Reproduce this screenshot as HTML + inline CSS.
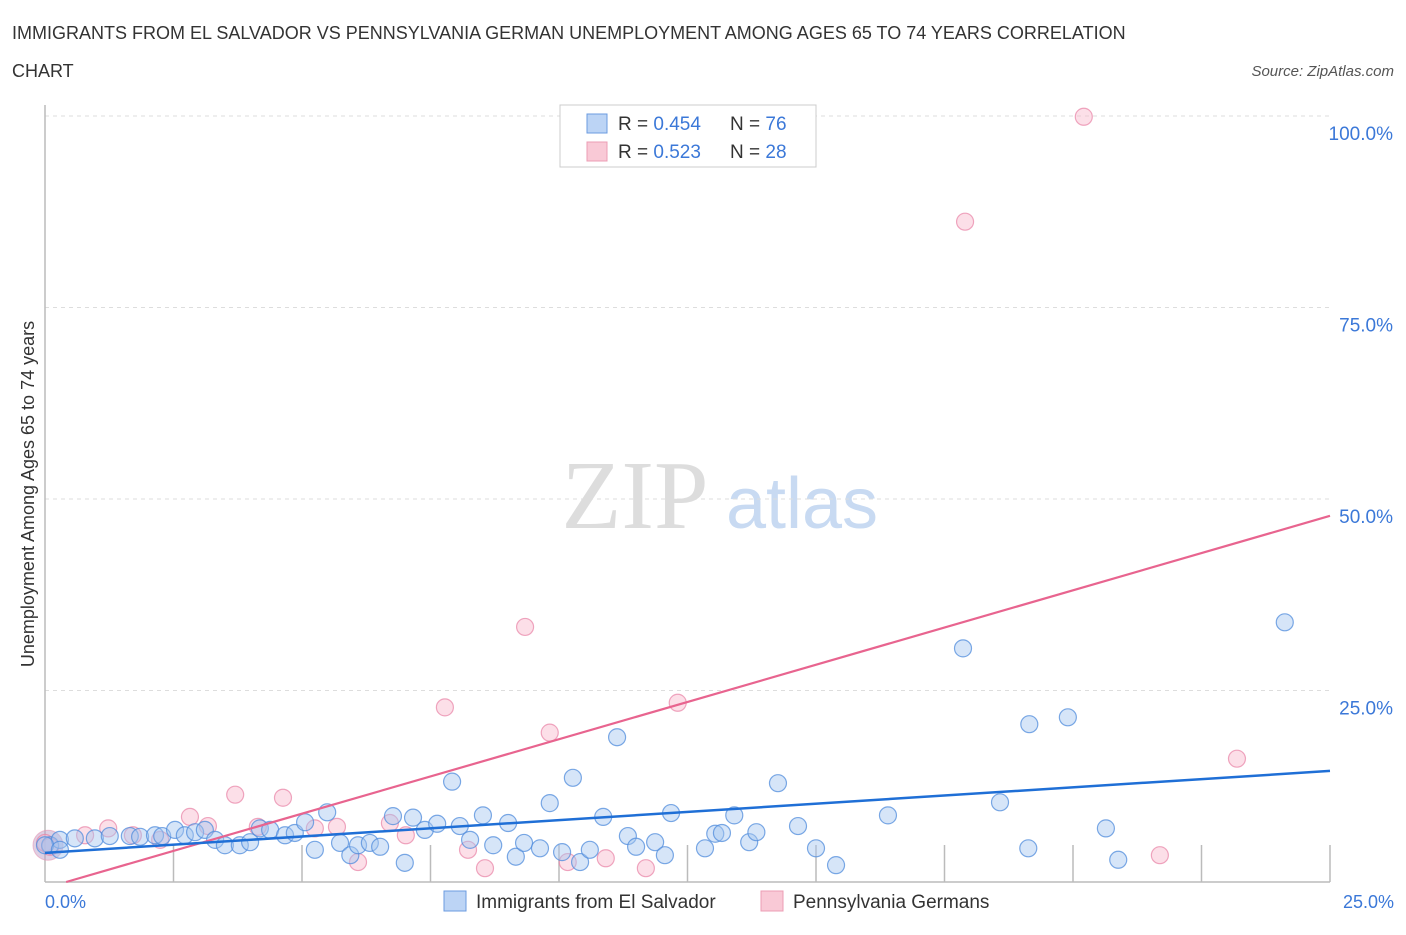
<!DOCTYPE html>
<html><head><meta charset="utf-8"><style>
body{margin:0;background:#fff;font-family:"Liberation Sans",sans-serif}
</style></head><body>
<svg id="chart" width="1406" height="930" xmlns="http://www.w3.org/2000/svg">
<text x="12" y="39" font-size="18" fill="#333">IMMIGRANTS FROM EL SALVADOR VS PENNSYLVANIA GERMAN UNEMPLOYMENT AMONG AGES 65 TO 74 YEARS CORRELATION</text>
<text x="12" y="77" font-size="18" fill="#333">CHART</text>
<text x="1394" y="76" font-size="15" fill="#555" font-style="italic" text-anchor="end">Source: ZipAtlas.com</text>
<text x="635" y="528" font-size="98" fill="#ddd" font-family="Liberation Serif,serif" text-anchor="middle">ZIP</text>
<text x="802" y="528" font-size="72" fill="#c8daf2" text-anchor="middle">atlas</text>
<g id="grid"></g><g id="axes"></g><g id="marks"></g>
<text transform="translate(34,494) rotate(-90)" font-size="18" fill="#333" text-anchor="middle">Unemployment Among Ages 65 to 74 years</text>
<text x="45" y="908" font-size="18" fill="#3b78d8">0.0%</text>
<text x="1394" y="908" font-size="18" fill="#3b78d8" text-anchor="end">25.0%</text>
<g>
<rect x="560" y="105" width="256" height="62" fill="#fff" stroke="#ccc"/>
<rect x="587" y="114" width="20" height="19" fill="#bcd4f5" stroke="#6b9be0"/>
<rect x="587" y="142" width="20" height="19" fill="#f9c9d6" stroke="#ec9db4"/>
<text x="618" y="130" font-size="19" fill="#333">R = <tspan fill="#3b78d8">0.454</tspan><tspan x="730">N = </tspan><tspan fill="#3b78d8">76</tspan></text>
<text x="618" y="158" font-size="19" fill="#333">R = <tspan fill="#3b78d8"> 0.523</tspan><tspan x="730">N = </tspan><tspan fill="#3b78d8">28</tspan></text>
</g>
<g>
<rect x="444" y="891" width="22" height="20" fill="#bcd4f5" stroke="#6b9be0"/>
<text x="476" y="908" font-size="19" fill="#333">Immigrants from El Salvador</text>
<rect x="761" y="891" width="22" height="20" fill="#f9c9d6" stroke="#ec9db4"/>
<text x="793" y="908" font-size="19" fill="#333">Pennsylvania Germans</text>
</g>
</svg>
<script>
const yTicks=[25,50,75,100];
const yTickLabels=["25.0%","50.0%","75.0%","100.0%"];
const xTicks=[2.5,5,7.5,10,12.5,15,17.5,20,22.5,25];
const blueX=[0.10,0.29,0.58,0.97,1.26,1.65,1.85,2.14,2.28,2.53,2.72,2.92,3.11,3.31,3.50,3.79,3.99,4.18,4.38,4.67,4.86,5.06,5.25,5.49,5.74,5.94,6.09,6.32,6.52,6.77,7.00,7.16,7.39,7.63,7.92,8.07,8.27,8.52,8.72,9.01,9.16,9.32,9.63,9.82,10.06,10.27,10.41,10.60,10.86,11.13,11.34,11.50,11.87,12.06,12.18,12.84,13.04,13.17,13.41,13.70,13.84,14.26,14.65,15.00,15.39,16.40,17.86,18.58,19.15,19.13,19.90,20.64,20.88,24.12,0.0,0.29];
const blueY=[4.8,5.5,5.7,5.7,6.0,6.0,5.9,6.1,6.0,6.8,6.1,6.5,6.8,5.5,4.8,4.8,5.2,7.0,6.8,6.1,6.4,7.8,4.2,9.1,5.1,3.5,4.8,5.1,4.6,8.6,2.5,8.4,6.8,7.6,13.1,7.3,5.5,8.7,4.8,7.7,3.3,5.1,4.4,10.3,3.9,13.6,2.6,4.2,8.5,18.9,6.0,4.6,5.2,3.5,9.0,4.4,6.3,6.4,8.7,5.2,6.5,12.9,7.3,4.4,2.2,8.7,30.5,10.4,20.6,4.4,21.5,7.0,2.9,33.9,4.8,4.2];
const pinkX=[0.0,0.10,0.78,1.23,1.71,2.24,2.82,3.17,3.70,4.14,4.63,5.25,5.68,6.09,6.71,7.02,7.78,8.23,8.56,9.34,9.82,10.17,10.91,11.69,12.31,17.90,20.21,23.19,21.69];
const pinkY=[5.1,4.6,6.1,7.0,6.1,5.5,8.5,7.3,11.4,7.2,11.0,7.0,7.2,2.6,7.7,6.1,22.8,4.2,1.8,33.3,19.5,2.6,3.1,1.8,23.4,86.2,99.9,16.1,3.5];
const blueLine=[3.8,14.5];
const pinkLine=[-0.8,47.8];
const NS="http://www.w3.org/2000/svg";
const sx=v=>45+v/25*1285;
const sy=v=>882-v*7.66;
function mk(tag,attrs,parent){const e=document.createElementNS(NS,tag);for(const k in attrs)e.setAttribute(k,attrs[k]);document.getElementById(parent).appendChild(e);return e;}
yTicks.forEach((t,i)=>{
 let l=mk('line',{x1:45,x2:1330,y1:sy(t),y2:sy(t),stroke:'#ddd','stroke-dasharray':'4,4'},'grid');
 
 
 let tx=mk('text',{x:1393,y:sy(t)+24,'font-size':19,fill:'#3b78d8','text-anchor':'end'},'grid');
 tx.textContent=yTickLabels[i];
 
 
});
let ax=mk('line',{x1:45,x2:1330,y1:882,y2:882,stroke:'#bbb','stroke-width':1.5},'axes');


let ay=mk('line',{x1:45,x2:45,y1:105,y2:882,stroke:'#bbb','stroke-width':1.5},'axes');


xTicks.forEach(t=>{
 let l=mk('line',{x1:sx(t),x2:sx(t),y1:845,y2:882,stroke:'#bbb','stroke-width':1.5},'axes');
 
 
});
let big=mk('circle',{cx:sx(0)+3,cy:sy(4.8),r:15,fill:'rgba(190,160,200,0.5)',stroke:'rgba(230,150,180,0.6)'},'marks');


pinkX.forEach((x,i)=>{
 let c=mk('circle',{cx:sx(x),cy:sy(pinkY[i]),r:8.5,fill:'rgba(248,185,203,0.45)',stroke:'rgba(232,130,165,0.7)','stroke-width':1.2},'marks');
 
 
});
blueX.forEach((x,i)=>{
 let c=mk('circle',{cx:sx(x),cy:sy(blueY[i]),r:8.5,fill:'rgba(165,198,240,0.45)',stroke:'rgba(80,140,220,0.75)','stroke-width':1.2},'marks');
 
 
});
const px0=-pinkLine[0]/(pinkLine[1]-pinkLine[0])*25;
let pl=mk('line',{x1:sx(px0),y1:sy(0),x2:sx(25),y2:sy(pinkLine[1]),stroke:'#e8648f','stroke-width':2.2},'marks');


let bl=mk('line',{x1:sx(0),y1:sy(blueLine[0]),x2:sx(25),y2:sy(blueLine[1]),stroke:'#1f6fd6','stroke-width':2.5},'marks');


</script>
</body></html>
